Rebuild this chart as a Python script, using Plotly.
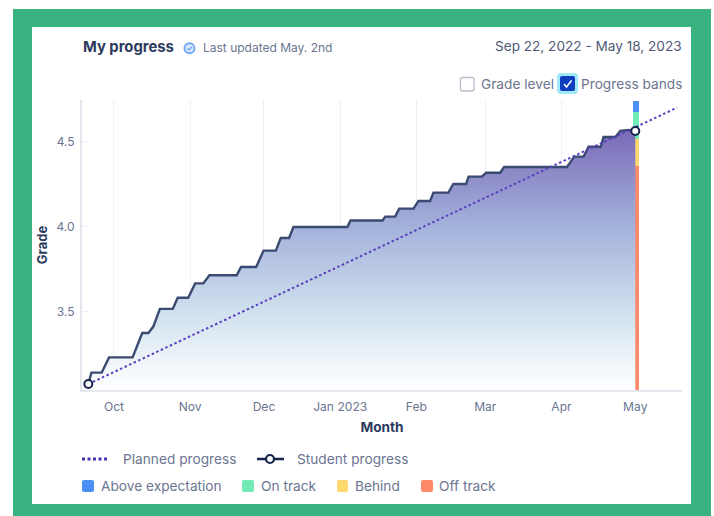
import plotly.graph_objects as go

W, H = 714, 516

student_dates = ["2022-09-20 14:00","2022-09-21 20:00","2022-09-26","2022-09-29","2022-10-08 14:00","2022-10-12 12:00","2022-10-15","2022-10-17","2022-10-19 16:00","2022-10-24 22:00","2022-10-26 22:00","2022-10-31 05:00","2022-11-03","2022-11-06 08:00","2022-11-08 20:00","2022-11-19 22:00","2022-11-21 16:00","2022-11-27 20:00","2022-11-30 20:00","2022-12-05 20:00","2022-12-07 20:00","2022-12-11 05:00","2022-12-13","2023-01-03 22:00","2023-01-05 05:00","2023-01-18 05:00","2023-01-19 08:00","2023-01-23 08:00","2023-01-25","2023-01-30 20:00","2023-02-01 20:00","2023-02-06 14:00","2023-02-07 22:00","2023-02-14","2023-02-16","2023-02-21 05:00","2023-02-22 05:00","2023-02-27 14:00","2023-03-01 08:00","2023-03-07 02:00","2023-03-08 16:00","2023-04-03 05:00","2023-04-06 05:00","2023-04-10","2023-04-12","2023-04-17","2023-04-18 02:00","2023-04-22 22:00","2023-04-24 22:00","2023-04-28 08:00","2023-05-01"]
student_grades = [3.076,3.143,3.143,3.233,3.233,3.376,3.376,3.414,3.518,3.518,3.584,3.584,3.668,3.668,3.716,3.716,3.765,3.765,3.861,3.861,3.935,3.935,4.0,4.0,4.038,4.038,4.061,4.061,4.108,4.108,4.153,4.153,4.202,4.202,4.253,4.253,4.296,4.296,4.319,4.319,4.353,4.353,4.414,4.414,4.472,4.472,4.529,4.529,4.566,4.571,4.565]
planned_dates = ["2022-09-20 14:00","2023-05-18"]
planned_grades = [3.076,4.702]
first_last_dates = ["2022-09-20 14:00","2023-05-01"]
first_last_grades = [3.076,4.565]

band_names = ["Off track","Behind","On track","Above expectation"]
band_bases = [3.041,4.36,4.518,4.676]
band_tops = [4.36,4.518,4.676,4.741]
band_colors = ["#FF8A6B","#FFD970","#72EBB8","#4A90F5"]
band_date = "2023-05-01 08:00"
band_width_ms = 2.6*86400000

month_ticks = ["2022-10-01","2022-11-01","2022-12-01","2023-01-01","2023-02-01","2023-03-01","2023-04-01","2023-05-01"]
month_labels = ["Oct","Nov","Dec","Jan 2023","Feb","Mar","Apr","May"]
grade_ticks = [3.5,4.0,4.5]

FONT = "Inter, sans-serif"
DARK = "#2C3A5E"
MUTED = "#6B7591"

def px(x): return x/W
def py(y): return 1-y/H

def rrect(x0,y0,x1,y1,r,fill,line=None,lw=0,layer="above"):
    path=(f"M{px(x0+r)},{py(y0)} L{px(x1-r)},{py(y0)} Q{px(x1)},{py(y0)} {px(x1)},{py(y0+r)} "
          f"L{px(x1)},{py(y1-r)} Q{px(x1)},{py(y1)} {px(x1-r)},{py(y1)} L{px(x0+r)},{py(y1)} "
          f"Q{px(x0)},{py(y1)} {px(x0)},{py(y1-r)} L{px(x0)},{py(y0+r)} Q{px(x0)},{py(y0)} {px(x0+r)},{py(y0)} Z")
    return dict(type="path",xref="paper",yref="paper",path=path,fillcolor=fill,
                line=dict(color=line or fill,width=lw),layer=layer)

def seg(pts,color,w,dash="solid"):
    path="M"+" L".join(f"{px(a)},{py(b)}" for a,b in pts)
    return dict(type="path",xref="paper",yref="paper",path=path,line=dict(color=color,width=w,dash=dash))

def circ(cx,cy,r,fill,line,w):
    return dict(type="circle",xref="paper",yref="paper",x0=px(cx-r),x1=px(cx+r),y0=py(cy+r),y1=py(cy-r),
                fillcolor=fill,line=dict(color=line,width=w))

def label(x,y,text,size=13.7,color=MUTED,anchor="left",bold=False,family=FONT):
    return dict(xref="paper",yref="paper",x=px(x),y=py(y),text=f"<b>{text}</b>" if bold else text,showarrow=False,
                xanchor=anchor,yanchor="middle",borderpad=0,borderwidth=0,font=dict(family=family,size=size,color=color))

fig = go.Figure()

fig.add_trace(go.Scatter(x=student_dates,y=student_grades,mode="lines",showlegend=False,hoverinfo="skip",
    line=dict(color="#3A4A70",width=2.4),fill="tozeroy",
    fillgradient=dict(type="vertical",start=3.041,stop=4.58,
        colorscale=[[0,"#FFFFFF"],[0.12,"#EDF4F9"],[0.3,"#CFE0EE"],[0.63,"#A3B1DA"],[1,"#7A69B8"]])))
for n,b,t,c in zip(band_names,band_bases,band_tops,band_colors):
    fig.add_trace(go.Bar(x=[band_date],y=[t-b],base=[b],width=[band_width_ms],name=n,
                         marker=dict(color=c,line=dict(width=0)),showlegend=False))
fig.add_trace(go.Scatter(x=planned_dates,y=planned_grades,mode="lines",showlegend=False,
    line=dict(color="#5B3FBF",width=2,dash="2.5px,2.5px")))
fig.add_trace(go.Scatter(x=first_last_dates,y=first_last_grades,mode="markers",showlegend=False,
    marker=dict(size=8,color="#FFFFFF",line=dict(color="#16244D",width=2))))

shapes=[
    dict(type="rect",xref="paper",yref="paper",x0=px(13),x1=px(711),y0=0,y1=py(9),fillcolor="#38B27F",line=dict(width=0),layer="below"),
    dict(type="rect",xref="paper",yref="paper",x0=px(32),x1=px(691),y0=py(504),y1=py(27),fillcolor="#FFFFFF",line=dict(width=0),layer="below"),
    # verified icon
    circ(189.5,48.3,5,"#DCE9FD","#74A9F7",2),
    seg([(187.3,48.3),(189,50),(191.9,46.7)],"#74A9F7",1.3),
    # checkboxes
    rrect(460.5,77.5,474,91,2,"#FFFFFF","#B8BDCB",1.3),
    rrect(557,73,578,94,4,"#A0E8FA"),
    rrect(560,76,575,91,2,"#0F3FBF"),
    seg([(564,84),(566.5,87),(571.5,80.5)],"#FFFFFF",1.5),
    # legend
    seg([(82,459),(108,459)],"#4A30B0",3,"3px,2.5px"),
    seg([(257,459),(284,459)],"#16244D",2.5),
    circ(270,459,4,"#FFFFFF","#16244D",2.2),
    rrect(82,480,94,492,2,band_colors[3]),
    rrect(242,480,254,492,2,band_colors[2]),
    rrect(337,480,348,492,2,band_colors[1]),
    rrect(421,480,433,492,2,band_colors[0]),
]

annotations=[
    label(83,47,"My progress",14.8,DARK,bold=True),
    label(203,48,"Last updated May. 2nd",12,MUTED),
    label(682,46,"Sep 22, 2022 - May 18, 2023",13.6,"#4F5A78",anchor="right"),
    label(481,84,"Grade level"),
    label(682,84,"Progress bands",anchor="right"),
    label(123,459,"Planned progress"),
    label(297,459,"Student progress"),
    label(101,486,band_names[3]),
    label(261,486,band_names[2]),
    label(355,486,band_names[1]),
    label(439,486,band_names[0]),
]

fig.update_layout(
    width=W,height=H,margin=dict(l=0,r=0,t=0,b=0),autosize=False,
    paper_bgcolor="#FFFFFF",plot_bgcolor="rgba(0,0,0,0)",barmode="overlay",bargap=0,
    font=dict(family=FONT,size=12,color=MUTED),showlegend=False,
    shapes=shapes,annotations=annotations,
    xaxis=dict(domain=[px(82),px(682)],type="date",range=["2022-09-18","2023-05-20"],
        tickmode="array",tickvals=month_ticks,ticktext=month_labels,showgrid=True,gridcolor="#EEF0F4",gridwidth=1,
        showline=True,linecolor="#E4E7EE",linewidth=2,ticks="",tickfont=dict(size=12.1,color=MUTED),ticklabelstandoff=4,
        title=dict(text="<b>Month</b>",font=dict(size=13.7,color=DARK),standoff=10),zeroline=False),
    yaxis=dict(domain=[py(390),py(100)],range=[3.041,4.747],tickmode="array",tickvals=grade_ticks,
        ticktext=["3.5","4.0","4.5"],showgrid=False,showline=True,linecolor="#E4E7EE",linewidth=2,
        ticks="inside",ticklen=7,tickcolor="#ECEEF3",tickwidth=1,tickfont=dict(size=12,color=MUTED),ticklabelstandoff=3,
        title=dict(text="<b>Grade</b>",font=dict(size=13,color=DARK),standoff=6),zeroline=False),
)
fig.write_html("out.html",config=dict(displayModeBar=False),post_script="document.body.style.margin='0';")
